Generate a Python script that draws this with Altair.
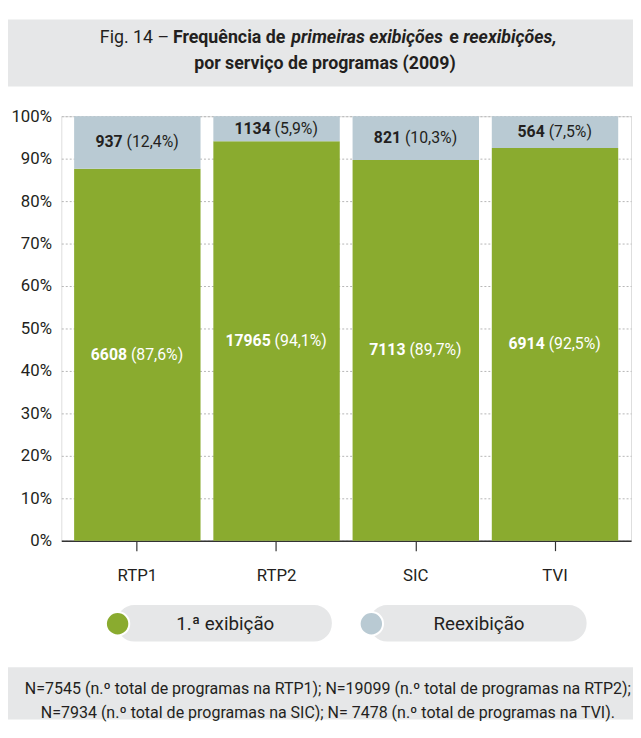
import altair as alt
import pandas as pd

# ---------------- data ----------------
channels = ["RTP1", "RTP2", "SIC", "TVI"]
series = ["1.ª exibição", "Reexibição"]
colors = ["#8aab2f", "#b9cad3"]
first_counts = [6608, 17965, 7113, 6914]
first_pcts = [87.6, 94.1, 89.7, 92.5]
re_counts = [937, 1134, 821, 564]
re_pcts = [12.4, 5.9, 10.3, 7.5]
y_ticks = [0, 10, 20, 30, 40, 50, 60, 70, 80, 90, 100]
title_line1 = ["Fig. 14 –", "Frequência de", "primeiras exibições", "e", "reexibições,"]
title_line2 = "por serviço de programas (2009)"
footer_lines = [
    "N=7545 (n.º total de programas na RTP1); N=19099 (n.º total de programas na RTP2);",
    "N=7934 (n.º total de programas na SIC); N= 7478 (n.º total de programas na TVI).",
]

FONT = "Roboto, Liberation Sans, sans-serif"
FS = 16
DARK = "#231f20"

rows = []
for i, ch in enumerate(channels):
    for k, (cnt, pct) in enumerate([(first_counts[i], first_pcts[i]), (re_counts[i], re_pcts[i])]):
        rows.append({
            "channel": ch,
            "series": series[k],
            "order": k,
            "value": pct,
            "num": str(cnt),
            "pct": "(" + f"{pct:.1f}".replace(".", ",") + "%)",
        })
df = pd.DataFrame(rows)

W, H = 577, 430
PAD_IN, PAD_OUT = 0.092, 0.092
n = len(channels)
step = W / (n - PAD_IN + 2 * PAD_OUT)
half_band = step * (1 - PAD_IN) / 2

x_enc = alt.X(
    "channel:N", sort=channels,
    scale=alt.Scale(paddingInner=PAD_IN, paddingOuter=PAD_OUT),
    axis=alt.Axis(title=None, labelAngle=0, labelFont=FONT, labelFontSize=17, labelColor=DARK,
                  labelPadding=17, tickSize=10, tickColor="#333", tickWidth=1.2,
                  domainColor="#333", domainWidth=1.6, grid=False),
)

bars = alt.Chart(df).mark_bar().encode(
    x=x_enc,
    y=alt.Y("value:Q", stack="zero",
            scale=alt.Scale(domain=[0, 100], nice=False),
            axis=alt.Axis(title=None, values=y_ticks, labelExpr="datum.value + '%'",
                          labelFont=FONT, labelFontSize=17, labelColor=DARK, labelPadding=10,
                          ticks=False, domain=False, grid=True, gridColor="#b5b5b5",
                          gridDash=[2, 2], gridWidth=1)),
    color=alt.Color("series:N", scale=alt.Scale(domain=series, range=colors), legend=None),
    order=alt.Order("order:Q"),
)

# approximate Roboto advance widths (em)
d, p, c, pc, sp = 0.562, 0.345, 0.196, 0.732, 0.248
off_expr = (
    f"{half_band} + (length(datum.num)*{d}*{FS} - {sp}*{FS} - "
    f"((length(datum.pct)-4)*{d} + 2*{p} + {c} + {pc})*{FS})/2"
)

lab = alt.Chart(df).transform_stack(
    stack="value", groupby=["channel"], as_=["y0", "y1"],
    sort=[alt.SortField("order", order="ascending")],
).transform_calculate(
    mid="(datum.y0 + datum.y1)/2",
    off=off_expr,
    off2=f"datum.off + {sp}*{FS}",
)

text_color = alt.condition("datum.order == 0", alt.value("white"), alt.value(DARK))

num_text = lab.mark_text(font=FONT, fontSize=FS, fontWeight="bold", align="right",
                         baseline="middle").encode(
    x=alt.X("channel:N", sort=channels),
    xOffset=alt.XOffset("off:Q", scale=None),
    y=alt.Y("mid:Q"),
    text="num:N",
    color=text_color,
)
pct_text = lab.mark_text(font=FONT, fontSize=FS, align="left", baseline="middle").encode(
    x=alt.X("channel:N", sort=channels),
    xOffset=alt.XOffset("off2:Q", scale=None),
    y=alt.Y("mid:Q"),
    text="pct:N",
    color=text_color,
)

one = alt.Chart(pd.DataFrame({"k": [0]}))
BOX = "#e6e7e8"

title_box = one.mark_rect(color=BOX).encode(
    x=alt.value(-54), x2=alt.value(W + 2), y=alt.value(-98), y2=alt.value(-30))
footer_box = one.mark_rect(color=BOX).encode(
    x=alt.value(-54), x2=alt.value(W + 2), y=alt.value(558), y2=alt.value(H + 181))

title_x = [39, 113, 233, 393, 407]
title_style = [("normal", "normal"), ("bold", "normal"), ("bold", "italic"),
               ("bold", "normal"), ("bold", "italic")]
title_layers = []
for txt, xx, (fw, st) in zip(title_line1, title_x, title_style):
    title_layers.append(one.mark_text(text=txt, font=FONT, fontSize=18, fontWeight=fw,
                                      fontStyle=st, align="left", baseline="middle",
                                      color=DARK).encode(x=alt.value(xx), y=alt.value(-79)))
title_layers.append(one.mark_text(text=title_line2, font=FONT, fontSize=18, fontWeight="bold",
                                  align="center", baseline="middle", color=DARK)
                    .encode(x=alt.value(267), y=alt.value(-53)))

legend_layers = []
pill_x = [(56, 274), (312, 532)]
circ_x = [57, 314]
text_x = [166, 423]
for s, col, (a, b), cx, tx in zip(series, colors, pill_x, circ_x, text_x):
    legend_layers.append(one.mark_rect(color=BOX, cornerRadius=18).encode(
        x=alt.value(a), x2=alt.value(b), y=alt.value(495), y2=alt.value(532)))
    legend_layers.append(one.mark_point(shape="circle", size=560, filled=True, opacity=1,
                                        strokeWidth=2).encode(
        x=alt.value(cx), y=alt.value(514), fill=alt.value(col), stroke=alt.value("white")))
    legend_layers.append(one.mark_text(text=s, font=FONT, fontSize=19, align="center",
                                       baseline="middle", color=DARK).encode(
        x=alt.value(tx), y=alt.value(514)))

footer_layers = []
for i, line in enumerate(footer_lines):
    footer_layers.append(one.mark_text(text=line, font=FONT, fontSize=16.2, align="center",
                                       baseline="middle", color=DARK).encode(
        x=alt.value(270), y=alt.value(580 + 24 * i)))

chart = alt.layer(
    title_box, footer_box, bars, num_text, pct_text,
    *title_layers, *legend_layers, *footer_layers,
).properties(
    width=W, height=H,
    autosize=alt.AutoSizeParams(type="none"),
    padding={"left": 54, "top": 105, "right": 2, "bottom": 181},
).configure_view(stroke=None).configure(background="white")

chart.save("out.html", embed_options={"renderer": "svg", "actions": False})
